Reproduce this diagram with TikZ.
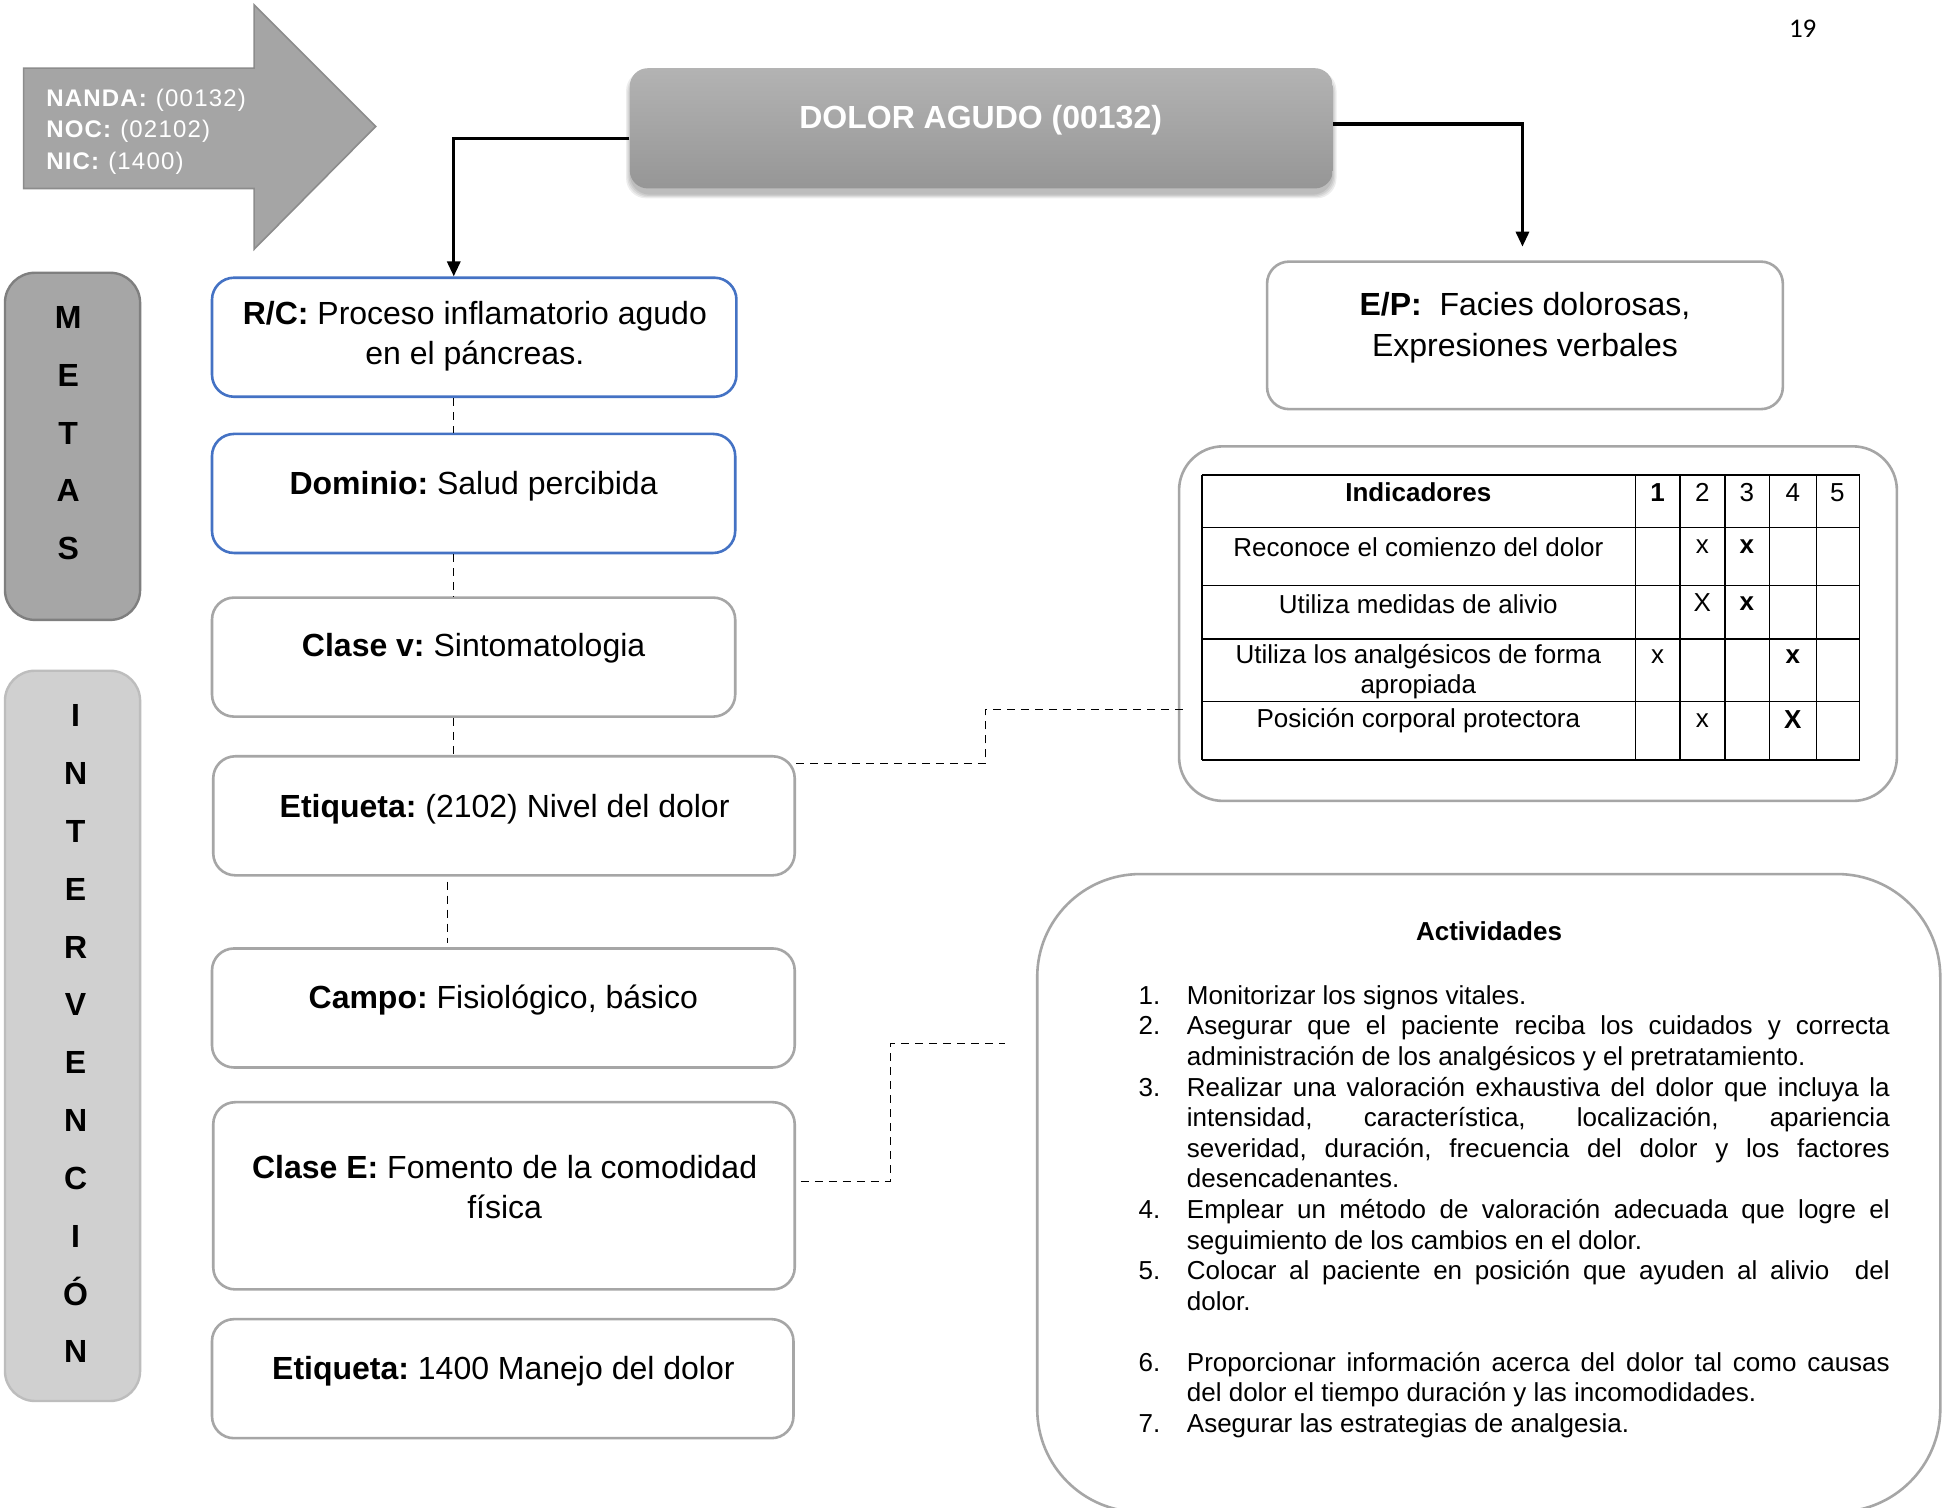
\documentclass[tikz,border=0pt]{standalone}
\usepackage{fontspec}
\setmainfont{Liberation Sans}
\newfontfamily\pagefont{Carlito}
\newfontfamily\spacedfont[LetterSpace=5]{Liberation Sans}
\usetikzlibrary{arrows.meta,calc,fit}
\frenchspacing

\definecolor{arrowgray}{HTML}{A5A5A5}
\definecolor{arrowedge}{HTML}{8C8C8C}
\definecolor{metasfill}{HTML}{A6A6A6}
\definecolor{metasedge}{HTML}{7F7F7F}
\definecolor{intfill}{HTML}{D0D0D0}
\definecolor{intedge}{HTML}{BDBDBD}
\definecolor{boxblue}{HTML}{4472C4}
\definecolor{boxgray}{HTML}{A6A6A6}
\definecolor{dolortop}{HTML}{B3B3B3}
\definecolor{dolorbot}{HTML}{969696}

\newcommand{\actitem}[2]{\par\hangindent=24.2pt\hangafter=1\noindent\makebox[24.2pt][l]{#1}#2\par}

\begin{document}
\begin{tikzpicture}[x=0.62pt,y=-0.62pt,
  fitbox/.style={inner sep=0pt, rounded corners=11pt, line width=1.3pt},
  bluebox/.style={fitbox, draw=boxblue, fill=white},
  graybox/.style={fitbox, draw=boxgray, fill=white},
  bodytext/.style={font=\fontsize{16}{20}\selectfont, align=center, inner sep=0pt},
  tabtext/.style={font=\fontsize{13}{15}\selectfont, inner sep=0pt, align=center},
  tabbold/.style={font=\fontsize{13}{15}\selectfont\bfseries, inner sep=0pt},
  letter/.style={font=\fontsize{16}{18}\selectfont\bfseries, inner sep=0pt, text height=11.4pt, text depth=0pt},
  conn/.style={line width=1.6pt, -{Triangle[length=7.5pt,width=6.5pt]}},
  dashconn/.style={line width=0.6pt, dash pattern=on 4pt off 3pt},
  gridline/.style={line width=0.7pt, black},
  shadowlayer/.style={fill=black, opacity=0.07, rounded corners=10pt},
]
\useasboundingbox (0,0) rectangle (1568,1216);
\fill[white] (0,0) rectangle (1568,1216);
\begin{scope}
\clip (0,0) rectangle (1568,1216);

% page number
\node[font=\pagefont\fontsize{13.5}{16}\selectfont, inner sep=0pt] (pagenum) at (1454,23) {19};

% big arrow
\draw[fill=arrowgray, draw=arrowedge, line width=0.8pt]
  (19,55) -- (205,55) -- (205,4) -- (303,102) -- (205,201) -- (205,152) -- (19,152) -- cycle;
\node[font=\spacedfont\fontsize{12}{15.8}\selectfont, text=white, align=left, anchor=west, inner sep=0pt] (codes) at (37,106)
  {\textbf{NANDA:} (00132)\\\textbf{NOC:} (02102)\\\textbf{NIC:} (1400)};

% soft shadow of the main problem box
\foreach \s in {0,1,2,3}
  \fill[shadowlayer] ({508-\s},{60-\s}) rectangle ({1075+\s},{157+\s});

% main problem box
\node[fit={(508,55) (1075,152)}, inner sep=0pt, rounded corners=9pt, draw=none,
  top color=dolortop, bottom color=dolorbot] (dolor) {};
\node[font=\fontsize{16}{20}\selectfont\bfseries, text=white, inner sep=0pt] (dolortext) at (791,97) {DOLOR AGUDO (00132)};

% METAS
\node[fit={(4,220) (113,500)}, inner sep=0pt, rounded corners=15pt, fill=metasfill, draw=metasedge, line width=1.2pt] (metas) {};
\foreach \l [count=\i] in {M,E,T,A,S}
  \node[letter] (metas\i) at (55,{256+46.5*(\i-1)}) {\l};

% INTERVENCION
\node[fit={(4,541) (113,1130)}, inner sep=0pt, rounded corners=15pt, fill=intfill, draw=intedge, line width=1.2pt] (interv) {};
\foreach \l [count=\i] in {I,N,T,E,R,V,E,N,C,I,Ó,N}
  \node[letter] (interv\i) at (61,{577+46.64*(\i-1)}) {\l};

% middle column
\node[bluebox, fit={(171,224) (594,320)}] (rc) {};
\node[bodytext] (rctext) at (383,271.5) {\textbf{R/C:} Proceso inflamatorio agudo\\en el páncreas.};
\node[bluebox, fit={(171,350) (593,446)}] (dom) {};
\node[bodytext] (domtext) at (382,392) {\textbf{Dominio:} Salud percibida};
\node[graybox, fit={(171,482) (593,578)}] (clv) {};
\node[bodytext] (clvtext) at (382,523) {\textbf{Clase v:} Sintomatologia};
\node[graybox, fit={(172,610) (641,706)}] (et) {};
\node[bodytext] (ettext) at (407,653) {\textbf{Etiqueta:} (2102) Nivel del dolor};
\node[graybox, fit={(171,765) (641,861)}] (campo) {};
\node[bodytext] (campotext) at (406,807) {\textbf{Campo:} Fisiológico, básico};
\node[graybox, fit={(172,889) (641,1040)}] (cle) {};
\node[bodytext] (cletext) at (407,957.5) {\textbf{Clase E:} Fomento de la comodidad\\física};
\node[graybox, fit={(171,1064) (640,1160)}] (et2) {};
\node[bodytext] (et2text) at (406,1106) {\textbf{Etiqueta:} 1400 Manejo del dolor};

% E/P box
\node[graybox, fit={(1022,211) (1438,330)}] (ep) {};
\node[bodytext, font=\fontsize{16}{20.5}\selectfont] (eptext) at (1230,264) {\textbf{E/P:}\ \ Facies dolorosas,\\Expresiones verbales};

% indicators box and table
\node[graybox, rounded corners=22pt, fit={(951,360) (1530,646)}] (ind) {};
\foreach \yy in {383,425.6,472.4,515.4,566,613}
  \draw[gridline] (969.5,\yy) -- (1500,\yy);
\foreach \xx in {969.5,1319,1355,1391.5,1427,1465,1500}
  \draw[gridline] (\xx,383) -- (\xx,613);
\node[tabbold] (thind) at (1144,397) {Indicadores};
\node[tabbold] (th1) at (1337,397) {1};
\node[tabtext] (th2) at (1373,397) {2};
\node[tabtext] (th3) at (1409,397) {3};
\node[tabtext] (th4) at (1446,397) {4};
\node[tabtext] (th5) at (1482,397) {5};
\node[tabtext] (r1) at (1144,441) {Reconoce el comienzo del dolor};
\node[tabtext] (r1a) at (1373,441) {x};
\node[tabbold] (r1b) at (1409,441) {x};
\node[tabtext] (r2) at (1144,487) {Utiliza medidas de alivio};
\node[tabtext] (r2a) at (1373,486) {X};
\node[tabbold] (r2b) at (1409,487) {x};
\node[tabtext] (r3) at (1144,542) {Utiliza los analgésicos de forma\\apropiada};
\node[tabtext] (r3a) at (1337,530) {x};
\node[tabbold] (r3b) at (1446,530) {x};
\node[tabtext] (r4) at (1144,581) {Posición corporal protectora};
\node[tabtext] (r4a) at (1373,581) {x};
\node[tabbold] (r4b) at (1446,580) {X};

% activities box
\node[graybox, rounded corners=51.5pt, fit={(836.6,705) (1565,1219.5)}] (act) {};
\node[tabbold] (acttitle) at (1201,751) {Actividades};
\node[anchor=north west, inner sep=0pt, text width=375.7pt, align=justify, font=\fontsize{13}{15.3}\selectfont] (actlist) at (918,785) {%
\setlength{\parindent}{0pt}\setlength{\parskip}{0pt}\emergencystretch=2em\hbadness=10000
\actitem{1.}{Monitorizar los signos vitales.}
\actitem{2.}{Asegurar que el paciente reciba los cuidados y correcta\linebreak administración de los analgésicos y el pretratamiento.}
\actitem{3.}{Realizar una valoración exhaustiva del dolor que incluya la\linebreak intensidad, característica, localización, apariencia\linebreak severidad, duración, frecuencia del dolor y los factores\linebreak desencadenantes.}
\actitem{4.}{Emplear un método de valoración adecuada que logre el\linebreak seguimiento de los cambios en el dolor.}
\actitem{5.}{Colocar al paciente en posición que ayuden al alivio\ \ del\linebreak dolor.}
\vspace{15.3pt}
\actitem{6.}{Proporcionar información acerca del dolor tal como causas\linebreak del dolor el tiempo duración y las incomodidades.}
\actitem{7.}{Asegurar las estrategias de analgesia.}
};

% connectors
\coordinate (vx) at (366,0);
\coordinate (vx2) at (361,0);
\draw[conn] ($(dolor.west)+(0,8.5)$) -| (rc.north -| vx);
\draw[conn] ($(dolor.east)+(0,-3.5)$) -| ($(ep.north)+(-2,-11)$);
\draw[dashconn] (rc.south -| vx) -- (dom.north -| vx);
\draw[dashconn] (dom.south -| vx) -- (clv.north -| vx);
\draw[dashconn] (clv.south -| vx) -- (et.north -| vx);
\draw[dashconn] ($(et.south -| vx2)+(0,4)$) -- ($(campo.north -| vx2)+(0,-3)$);
\draw[dashconn] ($(et.north east)+(0,7)$) -- ++(153,0) |- ($(ind.west)+(8,69)$);
\draw[dashconn] ($(cle.east)+(4,-11.5)$) -- ++(72,0) |- ($(act.north west)+(-25,138)$);
\end{scope}
\end{tikzpicture}
\end{document}
